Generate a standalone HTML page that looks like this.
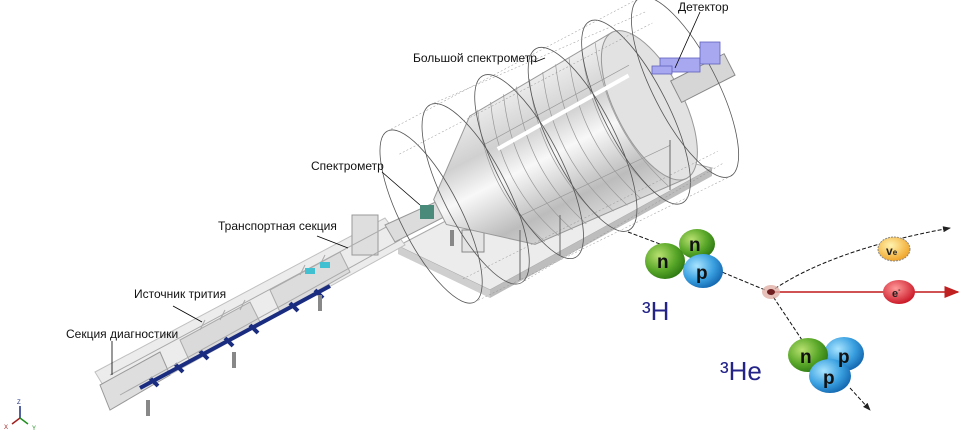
<!DOCTYPE html>
<html><head><meta charset="utf-8"><style>
html,body{margin:0;padding:0;background:#fff;width:963px;height:435px;overflow:hidden}
svg{display:block}
text{font-family:"Liberation Sans",sans-serif}
</style></head><body>
<svg width="963" height="435" viewBox="0 0 963 435" xmlns="http://www.w3.org/2000/svg">
<defs>
<linearGradient id="cyl" x1="0" y1="0" x2="0" y2="1">
<stop offset="0" stop-color="#f0f0f0"/><stop offset="0.3" stop-color="#d0d0d0"/><stop offset="0.5" stop-color="#f8f8f8"/><stop offset="0.8" stop-color="#bcbcbc"/><stop offset="1" stop-color="#dadada"/>
</linearGradient>
<radialGradient id="g" cx="0.35" cy="0.35" r="0.7"><stop offset="0" stop-color="#b8e070"/><stop offset="0.6" stop-color="#5aa82a"/><stop offset="1" stop-color="#2f7a12"/></radialGradient>
<radialGradient id="b" cx="0.35" cy="0.35" r="0.7"><stop offset="0" stop-color="#a8e4ff"/><stop offset="0.6" stop-color="#3aa0e0"/><stop offset="1" stop-color="#1468b0"/></radialGradient>
<radialGradient id="y" cx="0.4" cy="0.35" r="0.7"><stop offset="0" stop-color="#fff3b0"/><stop offset="1" stop-color="#f0a020"/></radialGradient>
<radialGradient id="r" cx="0.4" cy="0.35" r="0.7"><stop offset="0" stop-color="#ff9a9a"/><stop offset="1" stop-color="#c81020"/></radialGradient>
<marker id="ah" markerWidth="10" markerHeight="8" refX="9" refY="4" orient="auto"><path d="M0,0 L10,4 L0,8 z" fill="#c02020"/></marker>
<marker id="ak" markerWidth="8" markerHeight="6" refX="7" refY="3" orient="auto"><path d="M0,0 L8,3 L0,6 z" fill="#222"/></marker>
</defs>

<!-- platform -->
<polygon points="398,246 600,140 712,168 490,290" fill="#ececec" stroke="#aaa"/>
<polygon points="398,246 490,290 490,298 398,254" fill="#cfcfcf"/>
<polygon points="490,290 712,168 712,176 490,298" fill="#bdbdbd"/>

<!-- beamline -->
<polygon points="95,372 385,218 405,245 115,405" fill="#ececec" stroke="#c0c0c0"/>
<polygon points="100,385 160,352 170,375 110,410" fill="#dedede" stroke="#999"/>
<polygon points="180,340 250,302 260,322 190,362" fill="#dadada" stroke="#aaa"/>
<polygon points="270,290 340,252 350,272 280,312" fill="#dcdcdc" stroke="#aaa"/>
<rect x="352" y="215" width="26" height="40" fill="#dedede" stroke="#999"/>
<g stroke="#1a2c80" stroke-width="4" fill="none">
<path d="M140,388 L330,286"/>
<path d="M150,378 l8,8 M175,364 l8,8 M200,351 l8,8 M225,338 l8,8 M250,325 l8,8 M290,303 l8,8 M315,290 l8,8"/>
</g>
<g stroke="#aaa" stroke-width="1" fill="none">
<path d="M110,375 L390,225 M120,395 L400,240"/>
<path d="M200,330 l5,-10 M220,320 l5,-10 M240,310 l5,-10 M300,275 l5,-10 M320,265 l5,-10"/>
</g>
<g fill="#40c0d0"><rect x="305" y="268" width="10" height="6"/><rect x="320" y="262" width="10" height="6"/></g>
<g fill="#888"><rect x="146" y="400" width="4" height="16"/><rect x="232" y="352" width="4" height="16"/><rect x="318" y="295" width="4" height="16"/><rect x="450" y="230" width="4" height="16"/><rect x="676" y="110" width="4" height="16"/><rect x="712" y="68" width="4" height="16"/></g>

<!-- spectrometer pipe -->
<polygon points="385,225 440,200 448,215 395,242" fill="#dcdcdc" stroke="#999"/>
<rect x="420" y="205" width="14" height="14" fill="#4a8a7a"/>
<rect x="445" y="192" width="14" height="14" fill="#4a8a7a"/>
<rect x="465" y="220" width="12" height="8" fill="#c03070"/>
<rect x="462" y="230" width="22" height="22" fill="#e4e4e4" stroke="#888"/>

<!-- main spectrometer -->
<g transform="translate(440,212) rotate(-27)">
<polygon points="0,-14 70,-72 235,-82 235,82 70,72 0,14" fill="url(#cyl)" stroke="#999"/>
<ellipse cx="235" cy="0" rx="34" ry="82" fill="#e2e2e2" stroke="#999"/>
<rect x="265" y="-12" width="60" height="24" fill="#d6d6d6" stroke="#888"/>
<g stroke="#999" stroke-width="0.7" fill="none">
<path d="M80,-74 q-30,74 0,148 M95,-75 q-30,75 0,150 M110,-76 q-30,76 0,152 M125,-77 q-30,77 0,154 M140,-78 q-30,78 0,156 M155,-78 q-30,78 0,156 M170,-79 q-30,79 0,158 M185,-79 q-30,79 0,158 M200,-80 q-30,80 0,160 M215,-80 q-30,80 0,160"/>
<path d="M70,-40 L235,-45 M70,40 L235,45"/>
</g>
<path d="M80,-30 L230,-36" stroke="#fff" stroke-width="4"/>
<g stroke="#555" stroke-width="0.8" fill="none">
<ellipse cx="-10" cy="0" rx="30" ry="96"/>
<ellipse cx="40" cy="0" rx="32" ry="100"/>
<ellipse cx="100" cy="0" rx="32" ry="102"/>
<ellipse cx="160" cy="0" rx="32" ry="102"/>
<ellipse cx="220" cy="0" rx="32" ry="102"/>
<ellipse cx="275" cy="0" rx="32" ry="100"/>
</g>
<g stroke="#999" stroke-width="0.5" stroke-dasharray="2,2" fill="none">
<path d="M-10,-96 L275,-100 M-10,96 L275,100 M-10,-70 L275,-72 M-10,70 L275,72 M40,-100 L275,-85 M40,100 L275,85"/>
</g>
</g>
<!-- detector -->
<g fill="#a8a8f0" stroke="#6060c0" stroke-width="0.8">
<rect x="660" y="58" width="40" height="14"/>
<rect x="700" y="42" width="20" height="22"/>
<rect x="652" y="66" width="20" height="8"/>
</g>
<line x1="670" y1="140" x2="670" y2="190" stroke="#666"/>
<line x1="520" y1="230" x2="520" y2="280" stroke="#666"/>
<line x1="560" y1="215" x2="560" y2="255" stroke="#666"/>

<g stroke="#000" stroke-width="0.8">
<line x1="112" y1="341" x2="112" y2="375"/>
<line x1="173" y1="306" x2="202" y2="322"/>
<line x1="317" y1="236" x2="348" y2="248"/>
<line x1="382" y1="172" x2="420" y2="205"/>
<line x1="535" y1="62" x2="545" y2="58"/>
<line x1="700" y1="12" x2="675" y2="68"/>
</g>
<g font-size="12" fill="#111">
<text x="66" y="338">Секция диагностики</text>
<text x="134" y="298">Источник трития</text>
<text x="218" y="230">Транспортная секция</text>
<text x="311" y="170">Спектрометр</text>
<text x="413" y="62">Большой спектрометр</text>
<text x="678" y="11">Детектор</text>
</g>

<!-- decay -->
<g stroke="#111" stroke-width="1" stroke-dasharray="4,2" fill="none">
<path d="M628,232 L660,244"/>
<path d="M717,270 L770,292"/>
<path d="M770,292 Q830,250 950,228" marker-end="url(#ak)"/>
<path d="M770,292 L802,340"/>
<path d="M850,388 L870,410" marker-end="url(#ak)"/>
</g>
<line x1="770" y1="292" x2="958" y2="292" stroke="#c01818" stroke-width="1.5" marker-end="url(#ah)"/>
<ellipse cx="771" cy="292" rx="9" ry="7" fill="#e0b0a8" opacity="0.8"/>
<ellipse cx="771" cy="292" rx="4" ry="3" fill="#702020"/>
<ellipse cx="697" cy="244" rx="18" ry="15" fill="url(#g)"/>
<ellipse cx="665" cy="261" rx="20" ry="18" fill="url(#g)"/>
<ellipse cx="703" cy="271" rx="20" ry="17" fill="url(#b)"/>
<g font-weight="bold" font-size="19" fill="#111">
<text x="689" y="251">n</text><text x="657" y="268">n</text><text x="696" y="279">p</text>
</g>
<ellipse cx="844" cy="354" rx="20" ry="17" fill="url(#b)"/>
<ellipse cx="808" cy="355" rx="20" ry="17" fill="url(#g)"/>
<ellipse cx="830" cy="376" rx="21" ry="17" fill="url(#b)"/>
<g font-weight="bold" font-size="19" fill="#111">
<text x="838" y="363">p</text><text x="800" y="363">n</text><text x="823" y="384">p</text>
</g>
<ellipse cx="894" cy="249" rx="16" ry="12" fill="url(#y)" stroke="#888" stroke-dasharray="2,1"/>
<text x="886" y="255" font-size="12" font-weight="bold" fill="#222">v<tspan font-size="8">e</tspan></text>
<ellipse cx="899" cy="292" rx="16" ry="12" fill="url(#r)"/>
<text x="892" y="297" font-size="11" font-weight="bold" fill="#222">e<tspan font-size="7" dy="-5">-</tspan></text>
<text x="642" y="320" font-size="26" fill="#23238a">³H</text>
<text x="720" y="380" font-size="26" fill="#23238a">³He</text>

<g stroke-width="1.5">
<line x1="20" y1="418" x2="20" y2="406" stroke="#1a2c80"/>
<line x1="20" y1="418" x2="12" y2="424" stroke="#a02020"/>
<line x1="20" y1="418" x2="28" y2="424" stroke="#209020"/>
</g>
<g font-size="6"><text x="17" y="404" fill="#1a2c80">Z</text><text x="4" y="429" fill="#a02020">X</text><text x="32" y="430" fill="#209020">Y</text></g>
</svg>
</body></html>
